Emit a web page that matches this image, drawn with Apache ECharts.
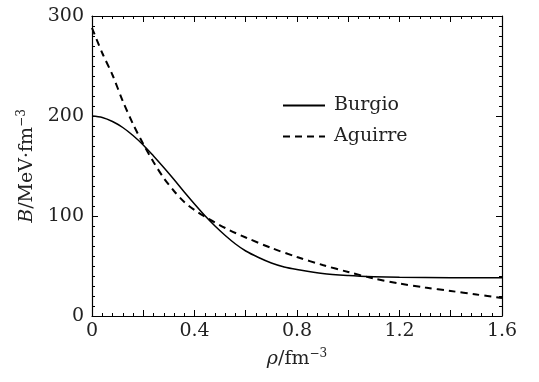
<!DOCTYPE html>
<html><head><meta charset="utf-8">
<script src="https://cdn.jsdelivr.net/npm/echarts@6/dist/echarts.min.js"></script>
<style>html,body{margin:0;padding:0;background:#fff}#c{width:539px;height:382px}</style>
</head><body><div id="c"></div>
<script>
const burgioRho = [0,0.04,0.08,0.12,0.16,0.2,0.24,0.28,0.32,0.36,0.40,0.44,0.48,0.52,0.56,0.6,0.65,0.7,0.75,0.8,0.9,1.0,1.1,1.2,1.4,1.6];
const burgioB   = [200,198.5,194.5,188.5,180.5,171,160,148.5,136.5,124,112,100.5,90,80.5,72,65,58.5,53,49,46.5,42.5,40.5,39.3,38.7,38.3,38.2];
const aguirreRho = [0,0.04,0.08,0.12,0.16,0.2,0.24,0.28,0.32,0.36,0.40,0.44,0.48,0.52,0.56,0.6,0.7,0.8,0.9,1.0,1.1,1.2,1.3,1.4,1.5,1.6];
const aguirreB   = [288,263,241,215,192,172,154,138,125,114,106,99.5,93.5,88,83,78.5,68,59,51,44,37.5,32.5,28.5,25,21.5,18];
const xTicks = [0,0.4,0.8,1.2,1.6];
const yTicks = [0,100,200,300];

const FONT = 'DejaVu Serif';
const FS = 19;
const pair = (xs, ys) => xs.map((x,i)=>[x,ys[i]]);
const chart = echarts.init(document.getElementById('c'), null, {renderer:'canvas'});
const line = {show:true,onZero:false,lineStyle:{color:'#000',width:1.2}};
const tick = {show:true,inside:true,length:6,lineStyle:{color:'#000',width:1}};
const richName = {i:{fontFamily:FONT,fontSize:FS,fontStyle:'italic',color:'#222'},
                  sup:{fontFamily:FONT,fontSize:12,color:'#222',verticalAlign:'top',padding:[0,0,10,0]}};
chart.setOption({
  animation:false,
  grid:{left:92,right:37,top:16,bottom:66,containLabel:false,outerBoundsMode:'none'},
  textStyle:{fontFamily:FONT},
  legend:{
    orient:'vertical',left:282,top:96,padding:0,itemWidth:42,itemHeight:14,itemGap:12,
    itemStyle:{opacity:0},
    textStyle:{fontFamily:FONT,fontSize:FS,color:'#222',padding:[0,0,0,4]},
    data:['Burgio','Aguirre']
  },
  xAxis:[
    {type:'value',min:0,max:1.6,interval:0.2,position:'bottom',
      axisLine:line,axisTick:tick,splitLine:{show:false},
      minorTick:{show:true,splitNumber:5,length:3,lineStyle:{color:'#000'}},
      minorSplitLine:{show:false},
      axisLabel:{fontFamily:FONT,fontSize:FS,color:'#222',margin:6,
        formatter:v=>{const r=Math.round(v*10)/10; return xTicks.some(t=>Math.abs(t-r)<1e-6)?String(r):'';}},
      name:'{i|ρ}/fm{sup|−3}',nameLocation:'middle',nameGap:32,
      nameTextStyle:{fontFamily:FONT,fontSize:FS,color:'#222',rich:richName}
    },
    {type:'value',min:0,max:1.6,interval:0.2,position:'top',
      axisLine:line,axisTick:tick,
      minorTick:{show:true,splitNumber:5,length:3,lineStyle:{color:'#000'}},
      axisLabel:{show:false},splitLine:{show:false}}
  ],
  yAxis:[
    {type:'value',min:0,max:300,interval:100,position:'left',
      axisLine:line,axisTick:tick,
      minorTick:{show:true,splitNumber:10,length:3,lineStyle:{color:'#000'}},
      splitLine:{show:false},
      axisLabel:{fontFamily:FONT,fontSize:FS,color:'#222',margin:8,
        formatter:v=>yTicks.includes(v)?String(v):''},
      name:'{i|B}/MeV·fm{sup|−3}',nameLocation:'middle',nameGap:54,nameRotate:90,
      nameTextStyle:{fontFamily:FONT,fontSize:FS,color:'#222',rich:richName}
    },
    {type:'value',min:0,max:300,interval:100,position:'right',
      axisLine:line,axisTick:tick,
      minorTick:{show:true,splitNumber:10,length:3,lineStyle:{color:'#000'}},
      axisLabel:{show:false},splitLine:{show:false}}
  ],
  series:[
    {name:'Burgio',type:'line',smooth:0.3,symbol:'none',data:pair(burgioRho,burgioB),
      lineStyle:{color:'#000',width:1.5,type:'solid'},itemStyle:{color:'#000'}},
    {name:'Aguirre',type:'line',smooth:0.3,symbol:'none',data:pair(aguirreRho,aguirreB),
      lineStyle:{color:'#000',width:2,type:[7,5]},itemStyle:{color:'#000'}}
  ]
});
</script></body></html>
